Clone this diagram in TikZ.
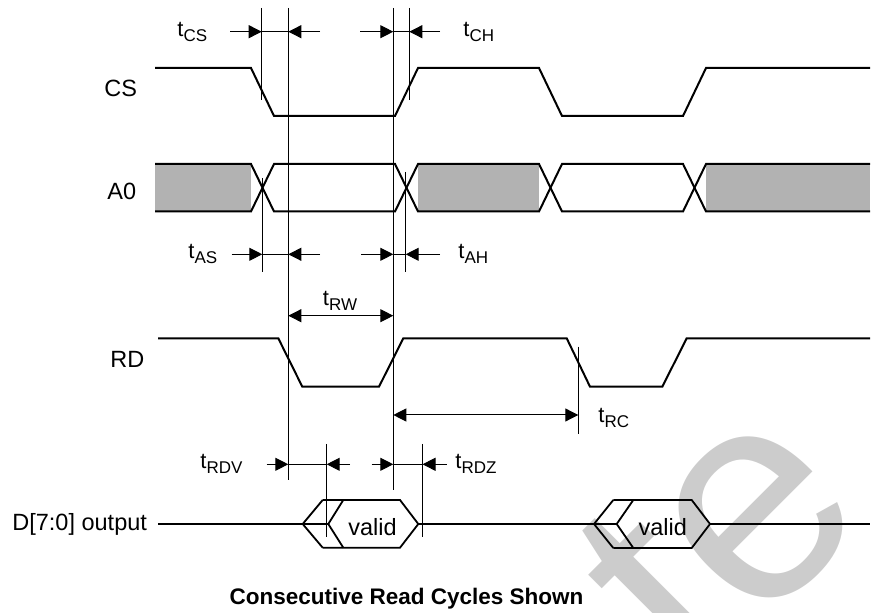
\documentclass[tikz,border=0pt]{standalone}
\usepackage{fontspec}
\setmainfont{Liberation Sans}
\usetikzlibrary{arrows.meta}
\definecolor{busgray}{gray}{0.7}
\definecolor{markgray}{gray}{0.8}
\newcommand{\tparam}[1]{{\fontsize{11}{13}\selectfont t\raisebox{-2.5pt}{\fontsize{8.5}{10}\selectfont #1}}}

\begin{document}
\begin{tikzpicture}[x=0.5pt,y=-0.5pt,
  every node/.style={font=\fontsize{11.75}{14}\selectfont, inner sep=0pt},
  signal/.style={line width=1pt},
  bus/.style={line width=0.9pt},
  guide/.style={line width=0.5pt},
  tip/.style={line width=0.5pt, -{Triangle[length=6.5pt,width=6.5pt]}},
  tips/.style={line width=0.5pt, {Triangle[length=6.5pt,width=6.5pt]}-{Triangle[length=6.5pt,width=6.5pt]}}]
  \useasboundingbox (0,0) rectangle (871,613);
  % Watermark behind everything
  \node[rotate=45, text=markgray, font=\fontsize{150}{155}\selectfont] (mark) at (718,535) {te};
  % Signal names
  \node[anchor=base west] (cs) at (104,96.5) {CS};
  \node[anchor=base west] (a0) at (107,199.5) {A0};
  \node[anchor=base west] (rd) at (110,368) {RD};
  \node[anchor=base west] (dout) at (12,530.5) {D[7:0] output};
  % Draw the CS line
  \draw[signal] (155,68) -- (251,68) -- (274,116) -- (395,116) -- (418,68) -- (539,68)
    -- (562,116) -- (683,116) -- (706,68) -- (870,68);
  % Draw the A0 bus
  \fill[busgray] (155,164) rectangle (251,211.5);
  \fill[busgray] (418,164) rectangle (539,211.5);
  \fill[busgray] (706,164) rectangle (870,211.5);
  \draw[signal] (155,164) -- (251,164) -- (274,211.5) -- (395,211.5) -- (418,164) -- (539,164)
    -- (562,211.5) -- (683,211.5) -- (706,164) -- (870,164);
  \draw[signal] (155,211.5) -- (251,211.5) -- (274,164) -- (395,164) -- (418,211.5) -- (539,211.5)
    -- (562,164) -- (683,164) -- (706,211.5) -- (870,211.5);
  % Draw the RD line
  \draw[signal] (158,338.3) -- (278.3,338.3) -- (302.3,386.7) -- (379,386.7) -- (403.3,338.3)
    -- (566.7,338.3) -- (590,386.7) -- (662.3,386.7) -- (686.7,338.3) -- (870,338.3);
  % Draw the data output
  \draw[signal] (158,524) -- (328.3,524);
  \draw[bus] (322.7,500) -- (302.7,524) -- (322.7,547.7);
  \draw[bus] (322.7,500) -- (400,500) -- (418.3,524) -- (400,547.7) -- (322.7,547.7);
  \draw[bus] (343.3,500) -- (328.3,524) -- (343.3,547.7);
  \draw[signal] (418.3,524) -- (616.7,524);
  \draw[bus] (613.3,500) -- (594,524) -- (613.3,548);
  \draw[bus] (613.3,500) -- (691.7,500) -- (710,524) -- (691.7,548) -- (613.3,548);
  \draw[bus] (633.3,500) -- (616.7,524) -- (633.3,548);
  \draw[signal] (710,524) -- (870,524);
  \node[anchor=base] (valid1) at (372.5,535) {valid};
  \node[anchor=base] (valid2) at (662.8,535) {valid};
  % Draw the guide lines
  \draw[guide] (261.7,8) -- (261.7,100);
  \draw[guide] (288.3,8) -- (288.3,480);
  \draw[guide] (393.3,8) -- (393.3,490);
  \draw[guide] (409.3,8) -- (409.3,100);
  \draw[guide] (262.3,178) -- (262.3,272);
  \draw[guide] (405.7,172) -- (405.7,272);
  \draw[guide] (578.3,346.7) -- (578.3,434.3);
  \draw[guide] (326.7,444) -- (326.7,536.7);
  \draw[guide] (422.5,444) -- (422.5,536.7);
  % tCS and tCH
  \node[anchor=west] (tcs) at (177,31.7) {\tparam{CS}};
  \draw[tip] (230,31.7) -- (261.7,31.7);
  \draw[guide] (261.7,31.7) -- (288.3,31.7);
  \draw[tip] (320,31.7) -- (288.3,31.7);
  \draw[tip] (360,31.7) -- (393.3,31.7);
  \draw[guide] (393.3,31.7) -- (409.3,31.7);
  \draw[tip] (440,31.7) -- (409.3,31.7);
  \node[anchor=west] (tch) at (463,31.7) {\tparam{CH}};
  % tAS and tAH
  \node[anchor=west] (tas) at (188,254.3) {\tparam{AS}};
  \draw[tip] (231.7,254.3) -- (262.3,254.3);
  \draw[guide] (262.3,254.3) -- (288.3,254.3);
  \draw[tip] (320,254.3) -- (288.3,254.3);
  \draw[tip] (361,254.3) -- (393.3,254.3);
  \draw[guide] (393.3,254.3) -- (405.7,254.3);
  \draw[tip] (440,254.3) -- (405.7,254.3);
  \node[anchor=west] (tah) at (458,254.3) {\tparam{AH}};
  % tRW and tRC
  \node (trw) at (340,301) {\tparam{RW}};
  \draw[tips] (288.3,315.7) -- (393.3,315.7);
  \draw[tips] (393.3,415) -- (578.3,415);
  \node[anchor=west] (trc) at (598,418) {\tparam{RC}};
  % tRDV and tRDZ
  \node[anchor=west] (trdv) at (200,463.5) {\tparam{RDV}};
  \draw[tip] (266.7,464.3) -- (288.3,464.3);
  \draw[guide] (288.3,464.3) -- (326.7,464.3);
  \draw[tip] (350,464.3) -- (326.7,464.3);
  \draw[tip] (371.7,464.3) -- (393.3,464.3);
  \draw[guide] (393.3,464.3) -- (422.5,464.3);
  \draw[tip] (446.7,464.3) -- (422.5,464.3);
  \node[anchor=west] (trdz) at (455,463.5) {\tparam{RDZ}};
  % Caption
  \node[anchor=base, font=\bfseries\fontsize{11.25}{13}\selectfont] (caption) at (406.5,604) {Consecutive Read Cycles Shown};
\end{tikzpicture}
\end{document}
